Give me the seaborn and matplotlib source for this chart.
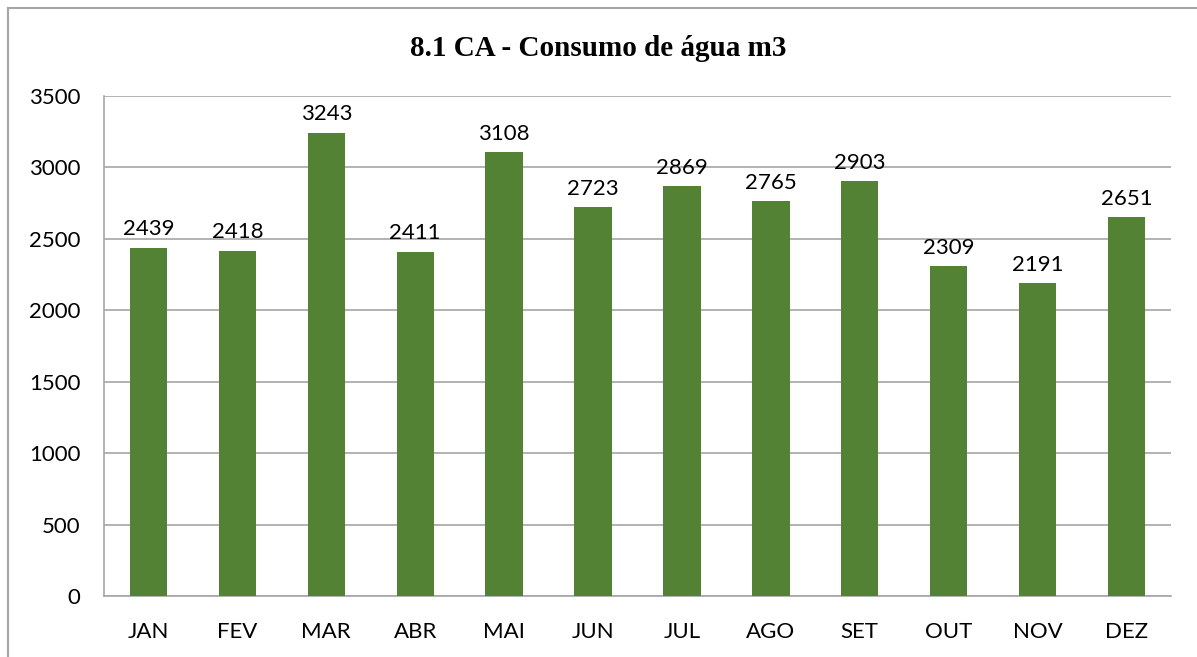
import matplotlib
matplotlib.use("Agg")
import pandas as pd
import seaborn as sb
from matplotlib import pyplot as plt
from matplotlib.patches import Rectangle

meses = ["JAN", "FEV", "MAR", "ABR", "MAI", "JUN", "JUL", "AGO", "SET", "OUT", "NOV", "DEZ"]
consumo = [2439, 2418, 3243, 2411, 3108, 2723, 2869, 2765, 2903, 2309, 2191, 2651]
yticks = [0, 500, 1000, 1500, 2000, 2500, 3000, 3500]

sb.set_style("white")
plt.rcParams['font.family'] = ['Lato', 'DejaVu Sans']
plt.rcParams['text.color'] = 'black'

df = pd.DataFrame({"mes": meses, "consumo": consumo})

fig = plt.figure(figsize=(11.97, 6.57), dpi=100)
ax = fig.add_axes([104/1197, 1 - 596/657, (1171-104)/1197, 500/657])

sb.barplot(data=df, x="mes", y="consumo", color="#548235", width=0.42,
           saturation=1, linewidth=0, ax=ax, zorder=3)

ax.set_ylim(0, 3500)
ax.set_yticks(yticks)
ax.yaxis.grid(True, color="#a6a6a6", linewidth=1.2, zorder=0)
ax.set_axisbelow(True)
for s in ["top", "right"]:
    ax.spines[s].set_visible(False)
ax.spines["left"].set_color("#a6a6a6")
ax.spines["bottom"].set_color("#a6a6a6")
ax.spines["left"].set_linewidth(1.2)
ax.spines["bottom"].set_linewidth(1.2)
ax.tick_params(axis="both", length=0, labelsize=16, colors="black")
ax.tick_params(axis="y", pad=17)
ax.tick_params(axis="x", pad=19)
ax.set_xlabel("")
ax.set_ylabel("")

for c in ax.containers:
    ax.bar_label(c, labels=[str(v) for v in consumo], padding=6, fontsize=16, color="black")

fig.text(0.5, 1 - 48/657, "8.1 CA - Consumo de água m3", ha="center", va="center",
         fontsize=21, fontweight="bold", family="Liberation Serif", color="black")

# moldura externa
fig.patches.append(Rectangle((8/1197, -0.1), 1.2, 1 - 8/657 + 0.1,
                             transform=fig.transFigure, fill=False,
                             edgecolor="#a6a6a6", linewidth=1.5))

fig.savefig("out.png", dpi=100)
